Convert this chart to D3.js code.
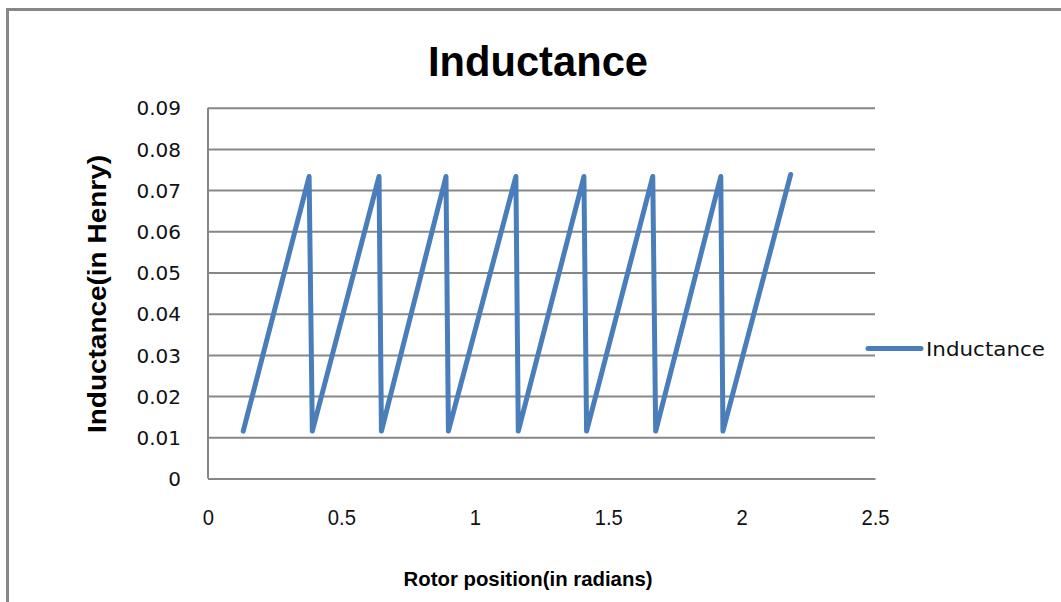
<!DOCTYPE html>
<html>
<head>
<meta charset="utf-8">
<script src="https://cdn.jsdelivr.net/npm/d3@7"></script>
<style>
  html, body { margin: 0; padding: 0; background: #fff; }
  svg { display: block; }
</style>
</head>
<body>
<svg id="chart" width="1061" height="602"></svg>
<script>
// Rotor position (rad) at each corner of the sawtooth and the inductance there (H)
const rotorPosition = [0.132, 0.379, 0.391, 0.641, 0.650, 0.892, 0.901, 1.154, 1.163,
                       1.409, 1.419, 1.667, 1.678, 1.922, 1.930, 2.184];
const inductance    = [0.0115, 0.0733, 0.0115, 0.0733, 0.0115, 0.0733, 0.0115, 0.0733, 0.0115,
                       0.0733, 0.0115, 0.0733, 0.0115, 0.0733, 0.0115, 0.0738];
const xTicks = [0, 0.5, 1, 1.5, 2, 2.5];
const yTicks = [0, 0.01, 0.02, 0.03, 0.04, 0.05, 0.06, 0.07, 0.08, 0.09];
const seriesName = "Inductance";

const svg = d3.select("#chart");
const gridColor = "#878787";
const lineColor = "#4a7ebb";

const x = d3.scaleLinear().domain([0, 2.5]).range([208, 875]);
const y = d3.scaleLinear().domain([0, 0.09]).range([478.5, 107.7]);

// outer chart frame (top and left edges)
svg.append("line").attr("x1", 7.5).attr("x2", 1061).attr("y1", 9.5).attr("y2", 9.5)
  .attr("stroke", gridColor).attr("stroke-width", 3);
svg.append("line").attr("x1", 7.5).attr("x2", 7.5).attr("y1", 8).attr("y2", 602)
  .attr("stroke", gridColor).attr("stroke-width", 3);

// title
svg.append("text").text("Inductance")
  .attr("x", 538).attr("y", 76).attr("text-anchor", "middle")
  .attr("font-family", "Liberation Sans, Arial, sans-serif").attr("font-weight", "bold")
  .attr("font-size", 43).attr("textLength", 220).attr("lengthAdjust", "spacingAndGlyphs")
  .attr("fill", "#000");

// horizontal gridlines and y axis
const yAxis = d3.axisLeft(y).tickValues(yTicks).tickSize(-(x.range()[1] - x.range()[0]))
  .tickPadding(27).tickFormat(d => d === 0 ? "0" : d3.format(".2f")(d));
const gy = svg.append("g").attr("transform", `translate(${x.range()[0]},0)`).call(yAxis);
gy.select(".domain").attr("stroke", gridColor).attr("stroke-width", 2).attr("d",
  `M0,${y.range()[1]}V${y.range()[0]}`);
gy.selectAll(".tick line").attr("stroke", gridColor).attr("stroke-width", 2);
gy.selectAll(".tick text").attr("font-family", "DejaVu Sans, sans-serif")
  .attr("font-size", 20).attr("fill", "#111").attr("dy", "0.36em");

// x axis (labels only, no tick marks)
const xAxis = d3.axisBottom(x).tickValues(xTicks).tickSize(0).tickPadding(31)
  .tickFormat(d => String(d));
const gx = svg.append("g").attr("transform", `translate(0,${y(0)})`).call(xAxis);
gx.select(".domain").attr("stroke", gridColor).attr("stroke-width", 2);
gx.selectAll(".tick text").attr("font-family", "Liberation Sans, Arial, sans-serif")
  .attr("font-size", 22).attr("fill", "#111").attr("transform", "scale(0.92,1)")
  .attr("x", function () { return 0; });

// axis titles
svg.append("text").text("Rotor position(in radians)")
  .attr("x", 528).attr("y", 586).attr("text-anchor", "middle")
  .attr("font-family", "Liberation Sans, Arial, sans-serif").attr("font-weight", "bold")
  .attr("font-size", 21).attr("textLength", 249).attr("lengthAdjust", "spacingAndGlyphs")
  .attr("fill", "#000");
svg.append("text").text("Inductance(in Henry)")
  .attr("transform", "translate(106,294) rotate(-90)").attr("text-anchor", "middle")
  .attr("font-family", "Liberation Sans, Arial, sans-serif").attr("font-weight", "bold")
  .attr("font-size", 25).attr("textLength", 278).attr("lengthAdjust", "spacingAndGlyphs")
  .attr("fill", "#000");

// inductance series
const pts = rotorPosition.map((r, i) => [r, inductance[i]]);
svg.append("path").datum(pts)
  .attr("d", d3.line().x(d => x(d[0])).y(d => y(d[1])))
  .attr("fill", "none").attr("stroke", lineColor).attr("stroke-width", 5)
  .attr("stroke-linejoin", "round").attr("stroke-linecap", "round");

// legend
svg.append("line").attr("x1", 868).attr("x2", 921).attr("y1", 348.5).attr("y2", 348.5)
  .attr("stroke", lineColor).attr("stroke-width", 5).attr("stroke-linecap", "round");
svg.append("text").text(seriesName)
  .attr("x", 926).attr("y", 356)
  .attr("font-family", "DejaVu Sans, sans-serif").attr("font-size", 20)
  .attr("textLength", 119).attr("lengthAdjust", "spacingAndGlyphs").attr("fill", "#111");
</script>
</body>
</html>
